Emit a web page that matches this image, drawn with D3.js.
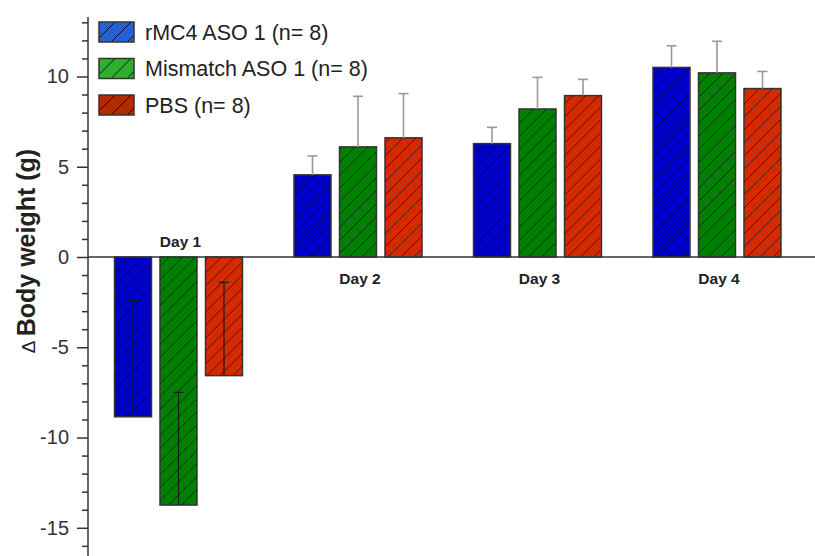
<!DOCTYPE html>
<html>
<head>
<meta charset="utf-8">
<script src="https://cdnjs.cloudflare.com/ajax/libs/d3/7.8.5/d3.min.js"></script>
<style>
html,body{margin:0;padding:0;background:#fff;}
svg{display:block;font-family:"Liberation Sans",Arial,sans-serif;}
</style>
</head>
<body>
<svg id="chart" width="815" height="556"></svg>
<script>
const days = ["Day 1", "Day 2", "Day 3", "Day 4"];
const seriesNames = ["rMC4 ASO 1 (n= 8)", "Mismatch ASO 1 (n= 8)", "PBS (n= 8)"];
const rmc4Values = [-8.85, 4.55, 6.28, 10.5];
const rmc4Err = [6.43, 1.05, 0.9, 1.2];
const mismatchValues = [-13.74, 6.1, 8.2, 10.2];
const mismatchErr = [6.24, 2.8, 1.75, 1.75];
const pbsValues = [-6.57, 6.6, 8.94, 9.33];
const pbsErr = [5.17, 2.45, 0.9, 0.95];
const majorTicks = [-15, -10, -5, 0, 5, 10];
const majorTickLabels = ["-15", "-10", "-5", "0", "5", "10"];

const barColors = ["#0000cc", "#008000", "#d42a00"];
const legendColors = ["#2262d2", "#2eb02e", "#b42a00"];

const values = [rmc4Values, mismatchValues, pbsValues];
const errs = [rmc4Err, mismatchErr, pbsErr];

const svg = d3.select("#chart");
const y = d3.scaleLinear().domain([-17, 13.3]).range([563.9, 16.9]);
const x0 = d3.scaleBand().domain(days).range([88.75, 806.75]).paddingInner(0.287).paddingOuter(0.1435);
const x1 = d3.scaleBand().domain(seriesNames).range([0, x0.bandwidth()]).paddingInner(0.187);

const defs = svg.append("defs");
function hatch(id, color, size, opacity) {
  const p = defs.append("pattern").attr("id", id).attr("patternUnits", "userSpaceOnUse")
    .attr("width", size).attr("height", size);
  p.append("rect").attr("width", size).attr("height", size).attr("fill", color);
  p.append("path").attr("d", `M0,${size} L${size},0 M-2,2 L2,-2 M${size-2},${size+2} L${size+2},${size-2}`)
    .attr("stroke", "#000").attr("stroke-opacity", opacity).attr("stroke-width", 1);
}
barColors.forEach((c, i) => hatch("bh" + i, c, 13, 0.6));
legendColors.forEach((c, i) => hatch("lh" + i, c, 16, 0.85));

// y axis
const axisX = 88;
const yAxis = d3.axisLeft(y).tickValues(majorTicks).tickSize(11).tickPadding(8)
  .tickFormat((d, i) => majorTickLabels[i]);
const ga = svg.append("g").attr("transform", `translate(${axisX},0)`).call(yAxis);
ga.select(".domain").remove();
ga.selectAll(".tick line").attr("stroke", "#333").attr("stroke-width", 1.5);
ga.selectAll(".tick text").attr("fill", "#333").style("font-size", "20px")
  .style("font-family", "'Liberation Sans',Arial,sans-serif");
const minor = d3.range(-16, 14).filter(v => !majorTicks.includes(v));
const gm = svg.append("g").attr("transform", `translate(${axisX},0)`)
  .call(d3.axisLeft(y).tickValues(minor).tickSize(6).tickFormat(""));
gm.select(".domain").remove();
gm.selectAll(".tick line").attr("stroke", "#333").attr("stroke-width", 1.5);
svg.append("line").attr("x1", axisX).attr("x2", axisX).attr("y1", y(13.3)).attr("y2", 556)
  .attr("stroke", "#333").attr("stroke-width", 1.5);

// y label
svg.append("text").attr("transform", `translate(35,251) rotate(-90)`).attr("text-anchor", "middle")
  .attr("fill", "#222")
  .call(t => {
    t.append("tspan").text("\u0394 ").style("font-size", "19px").style("font-weight", "normal");
    t.append("tspan").text("Body weight (g)").style("font-size", "25px").style("font-weight", "bold");
  });

// bars
const groups = svg.append("g").selectAll("g").data(days).join("g")
  .attr("transform", d => `translate(${x0(d)},0)`);
seriesNames.forEach((s, si) => {
  groups.append("rect")
    .attr("x", x1(s))
    .attr("width", x1.bandwidth())
    .attr("y", (d, i) => y(Math.max(0, values[si][i])))
    .attr("height", (d, i) => Math.abs(y(values[si][i]) - y(0)))
    .attr("fill", `url(#bh${si})`)
    .attr("stroke", "#333").attr("stroke-width", 1.5);
});
// error bars
seriesNames.forEach((s, si) => {
  groups.each(function(d, i) {
    const g = d3.select(this);
    const v = values[si][i], e = errs[si][i];
    const cx = x1(s) + x1.bandwidth() / 2;
    const col = v < 0 ? "#1a1a1a" : "#999";
    const w = v < 0 ? 1.2 : 1.6;
    g.append("line").attr("x1", cx).attr("x2", cx).attr("y1", y(v)).attr("y2", y(v + e))
      .attr("stroke", col).attr("stroke-width", w);
    g.append("line").attr("x1", cx - 5).attr("x2", cx + 5).attr("y1", y(v + e)).attr("y2", y(v + e))
      .attr("stroke", col).attr("stroke-width", w);
  });
});

// zero line
svg.append("line").attr("x1", axisX).attr("x2", 815).attr("y1", y(0)).attr("y2", y(0))
  .attr("stroke", "#333").attr("stroke-width", 1.5);

// day labels
svg.append("g").selectAll("text").data(days).join("text")
  .attr("x", d => x0(d) + x0.bandwidth() / 2 + 2)
  .attr("y", (d, i) => i === 0 ? y(0) - 10 : y(0) + 27)
  .attr("text-anchor", "middle").attr("fill", "#222")
  .style("font-size", "15.5px").style("font-weight", "bold")
  .text(d => d);

// legend
const leg = svg.append("g").attr("transform", "translate(99,22)");
seriesNames.forEach((s, i) => {
  const g = leg.append("g").attr("transform", `translate(0,${i * 36.5})`);
  g.append("rect").attr("width", 35).attr("height", 20).attr("fill", `url(#lh${i})`)
    .attr("stroke", "#333").attr("stroke-width", 1.5);
  g.append("text").attr("x", 46).attr("y", 10).attr("dy", "0.36em").attr("fill", "#222")
    .style("font-size", "21.5px").text(s);
});
</script>
</body>
</html>
